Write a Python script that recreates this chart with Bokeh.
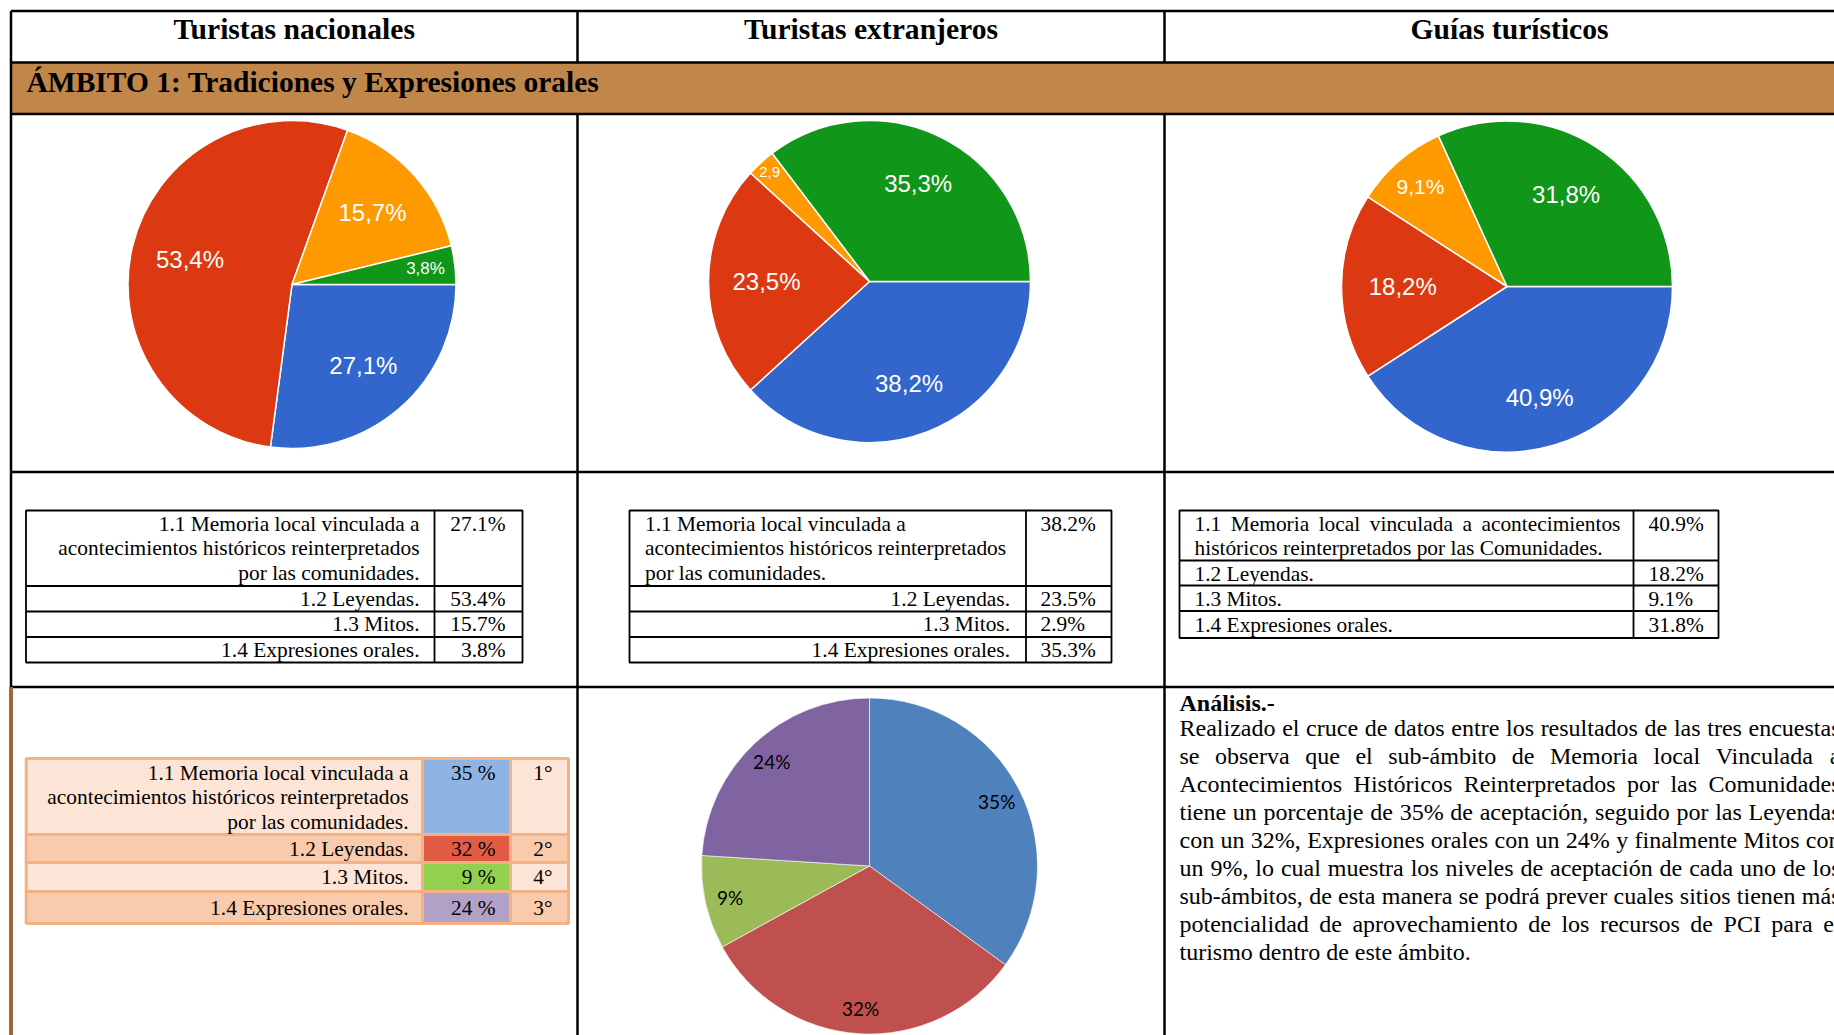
import math
from bokeh.plotting import figure
from bokeh.models import Range1d
from bokeh.embed import file_html
from bokeh.resources import INLINE
from bokeh.core.properties import value

# ---------------- data ----------------
column_titles = ["Turistas nacionales", "Turistas extranjeros", "Guías turísticos"]
ambito_title = "ÁMBITO 1: Tradiciones y Expresiones orales"
subambitos = ["1.1 Memoria local vinculada a acontecimientos históricos reinterpretados por las comunidades.",
              "1.2 Leyendas.", "1.3 Mitos.", "1.4 Expresiones orales."]
nacionales = [27.1, 53.4, 15.7, 3.8]
extranjeros = [38.2, 23.5, 2.9, 35.3]
guias = [40.9, 18.2, 9.1, 31.8]
promedio = [35, 32, 9, 24]
ranking = ["1°", "2°", "4°", "3°"]

google_colors = ["#3366CC", "#DC3912", "#FF9900", "#109618"]
excel_colors = ["#4F81BD", "#C0504D", "#9BBB59", "#8064A2"]
rank_cell_colors = ["#8EB4E3", "#E15B45", "#92D050", "#B2A1C7"]
row_fill_colors = ["#FCE4D6", "#F8CBAD", "#FCE4D6", "#F8CBAD"]

# wrapped first-row labels (as printed in each table)
first_label_a = ["1.1 Memoria local vinculada a", "acontecimientos históricos reinterpretados", "por las comunidades."]
first_label_b = ["1.1 Memoria local vinculada a acontecimientos", "históricos reinterpretados por las Comunidades."]

analysis_title = "Análisis.-"
analysis_lines = [
    "Realizado el cruce de datos entre los resultados de las tres encuestas",
    "se observa que el sub-ámbito de Memoria local Vinculada a",
    "Acontecimientos Históricos Reinterpretados por las Comunidades",
    f"tiene un porcentaje de {promedio[0]}% de aceptación, seguido por las Leyendas",
    f"con un {promedio[1]}%, Expresiones orales con un {promedio[3]}% y finalmente Mitos con",
    f"un {promedio[2]}%, lo cual muestra los niveles de aceptación de cada uno de los",
    "sub-ámbitos, de esta manera se podrá prever cuales sitios tienen más",
    "potencialidad de aprovechamiento de los recursos de PCI para el",
    "turismo dentro de este ámbito.",
]

# ---------------- helpers ----------------
SERIF = value("Liberation Serif")
SANS = value("Liberation Sans")

TIMES_W = {' ': 250, 'a': 444, 'b': 500, 'c': 444, 'd': 500, 'e': 444, 'f': 333, 'g': 500, 'h': 500,
           'i': 278, 'j': 278, 'k': 500, 'l': 278, 'm': 778, 'n': 500, 'o': 500, 'p': 500, 'q': 500,
           'r': 333, 's': 389, 't': 278, 'u': 500, 'v': 500, 'w': 722, 'x': 500, 'y': 500, 'z': 444,
           'A': 722, 'B': 667, 'C': 667, 'D': 722, 'E': 611, 'F': 556, 'G': 722, 'H': 722, 'I': 333,
           'J': 389, 'K': 722, 'L': 611, 'M': 889, 'N': 722, 'O': 722, 'P': 556, 'Q': 722, 'R': 667,
           'S': 556, 'T': 611, 'U': 722, 'V': 722, 'W': 944, 'X': 722, 'Y': 722, 'Z': 611,
           '.': 250, ',': 250, '-': 333, '%': 833, ':': 278, 'á': 444, 'é': 444, 'í': 278, 'ó': 500,
           'ú': 500, 'ñ': 500, '°': 400}


def tw(s, size):
    return sum(TIMES_W.get(ch, 500) for ch in s) / 1000.0 * size


W, H = 1834, 1035
p = figure(width=W, height=H, x_range=Range1d(0, W), y_range=Range1d(H, 0),
           output_backend="svg", toolbar_location=None, min_border=0,
           x_axis_location=None, y_axis_location=None)
p.grid.visible = False
p.outline_line_color = None
p.background_fill_color = "white"
p.border_fill_color = "white"


def txt(xs, ys, texts, size, align="left", font=SERIF, style="normal", color="black", baseline="middle"):
    p.text(x=xs, y=ys, text=texts, text_align=align, text_baseline=baseline, text_font=font,
           text_font_size=value(f"{size}px"), text_font_style=style, text_color=color)


def justified(line, x0, width, y, size):
    words = line.split(" ")
    ws = [tw(w, size) for w in words]
    gap = (width - sum(ws)) / max(len(words) - 1, 1)
    xs, x = [], x0
    for w in ws:
        xs.append(x)
        x += w + gap
    txt(xs, [y] * len(words), words, size)


# ---------------- outer grid ----------------
X0, XC1, XC2, XR = 10.5, 577, 1164, 1860
Y_TOP, Y_HEAD, Y_BAND, Y_PIE, Y_TAB, Y_BOT = 10.5, 62, 113.5, 471.5, 686.5, 1040

p.quad(left=[X0], right=[XR], top=[Y_HEAD], bottom=[Y_BAND], fill_color="#C0864A", line_color=None)
p.segment(x0=[X0] * 5, y0=[Y_TOP, Y_HEAD, Y_BAND, Y_PIE, Y_TAB], x1=[XR] * 5,
          y1=[Y_TOP, Y_HEAD, Y_BAND, Y_PIE, Y_TAB], line_color="black", line_width=2.5)
p.segment(x0=[X0, XC1, XC2, XC1, XC2], y0=[Y_TOP, Y_TOP, Y_TOP, Y_BAND, Y_BAND],
          x1=[X0, XC1, XC2, XC1, XC2], y1=[Y_TAB, Y_HEAD, Y_HEAD, Y_BOT, Y_BOT],
          line_color="black", line_width=2.5)
p.segment(x0=[X0], y0=[Y_TAB], x1=[X0], y1=[Y_BOT], line_color="#9C6A38", line_width=4)

# headers
txt([(X0 + XC1) / 2, (XC1 + XC2) / 2, (XC2 + 1854) / 2], [28, 28, 28], column_titles, 29.6,
    align="center", style="bold")
txt([26], [81], [ambito_title], 29.5, style="bold")


# ---------------- google pies ----------------
def google_pie(vals, cx, cy, r, label_r, label_sizes):
    total = sum(vals)
    starts, ends, a = [], [], 0.0
    for v in vals:
        starts.append(a)
        a += v / total * 360.0
        ends.append(a)
    p.wedge(x=[cx] * len(vals), y=[cy] * len(vals), radius=r,
            start_angle=[-math.radians(s) for s in starts], end_angle=[-math.radians(e) for e in ends],
            direction="clock", fill_color=google_colors, line_color="white", line_width=1.5)
    for v, s, e, lr, ls in zip(vals, starts, ends, label_r, label_sizes):
        m = math.radians((s + e) / 2)
        lab = f"{v:.1f}".replace(".", ",") + ("%" if v >= 3 else "")
        txt([cx + lr * r * math.cos(m)], [cy + lr * r * math.sin(m)], [lab], ls,
            align="center", font=SANS, color="white")


google_pie(nacionales, 291.5, 284, 164, [0.66, 0.64, 0.66, 0.82], [24, 24, 24, 17])
google_pie(extranjeros, 869, 281, 161, [0.68, 0.64, 0.92, 0.68], [24, 24, 15, 24])
google_pie(guias, 1506.5, 286, 165.5, [0.70, 0.63, 0.80, 0.66], [24, 24, 21, 24])


# ---------------- black tables ----------------
def black_table(left, div, right, tops, bottom):
    p.quad(left=[left], right=[right], top=[tops[0]], bottom=[bottom], fill_color=None,
           line_color="black", line_width=1.8)
    n = len(tops) - 1
    p.segment(x0=[left] * n, y0=tops[1:], x1=[right] * n, y1=tops[1:], line_color="black", line_width=1.8)
    p.segment(x0=[div], y0=[tops[0]], x1=[div], y1=[bottom], line_color="black", line_width=1.8)


TS = 21.4
rows_a = [510, 585.5, 611, 636.5]
first_a_y = [523, 547.5, 572]
# table 1
black_table(25.5, 434, 522, rows_a, 662)
txt([419] * 3, first_a_y, first_label_a, TS, align="right")
txt([419] * 3, [t + 12.5 for t in rows_a[1:]], subambitos[1:], TS, align="right")
txt([505] * 4, [first_a_y[0]] + [t + 12.5 for t in rows_a[1:]], [f"{v:.1f}%" for v in nacionales], TS,
    align="right")
# table 2
black_table(629, 1025.5, 1111, rows_a, 662)
txt([644.5] * 3, first_a_y, first_label_a, TS)
txt([1009.5] * 3, [t + 12.5 for t in rows_a[1:]], subambitos[1:], TS, align="right")
txt([1040] * 4, [first_a_y[0]] + [t + 12.5 for t in rows_a[1:]], [f"{v:.1f}%" for v in extranjeros], TS)
# table 3
rows_b = [510, 560, 585, 610.5]
black_table(1179, 1633, 1718, rows_b, 637.5)
justified(first_label_b[0], 1194, 426, 523, TS)
txt([1194], [547], [first_label_b[1]], TS)
txt([1194] * 3, [t + 13.5 for t in rows_b[1:]], subambitos[1:], TS)
txt([1648] * 4, [523] + [t + 13.5 for t in rows_b[1:]], [f"{v:.1f}%" for v in guias], TS)

# ---------------- orange summary table ----------------
rows_c = [758, 834, 862, 891]
bot_c = 923
L, D1, D2, R = 25.7, 422, 510, 568
bottoms_c = rows_c[1:] + [bot_c]
p.quad(left=[L] * 4, right=[D1] * 4, top=rows_c, bottom=bottoms_c, fill_color=row_fill_colors,
       line_color="#F4B183", line_width=3)
p.quad(left=[D1] * 4, right=[D2] * 4, top=rows_c, bottom=bottoms_c, fill_color=rank_cell_colors,
       line_color="#F4B183", line_width=3)
p.quad(left=[D2] * 4, right=[R] * 4, top=rows_c, bottom=bottoms_c, fill_color=row_fill_colors,
       line_color="#F4B183", line_width=3)
val_y = [772] + [(t + b) / 2 for t, b in zip(rows_c[1:], bottoms_c[1:])]
txt([408] * 3, [772, 796.5, 821], first_label_a, TS, align="right")
txt([408] * 3, val_y[1:], subambitos[1:], TS, align="right")
txt([495] * 4, val_y, [f"{v} %" for v in promedio], TS, align="right")
txt([552] * 4, val_y, ranking, TS, align="right")

# ---------------- excel pie ----------------
ecx, ecy, er = 869, 865.5, 168
tot = sum(promedio)
es, ee, a = [], [], -90.0
for v in promedio:
    es.append(a)
    a += v / tot * 360.0
    ee.append(a)
p.wedge(x=[ecx] * 4, y=[ecy] * 4, radius=er,
        start_angle=[-math.radians(s) for s in es], end_angle=[-math.radians(e) for e in ee],
        direction="clock", fill_color=excel_colors, line_color="white", line_width=0.6)
for v, s, e in zip(promedio, es, ee):
    m = math.radians((s + e) / 2)
    txt([ecx + 0.85 * er * math.cos(m)], [ecy + 0.85 * er * math.sin(m)], [f"{v}%"], 19,
        align="center", font=value("Lato"), color="black")

# ---------------- analysis text ----------------
AX, AW, AS = 1179, 661, 24
txt([AX], [702], [analysis_title], AS, style="bold")
for i, line in enumerate(analysis_lines):
    y = 727.5 + 28 * i
    if i < len(analysis_lines) - 1:
        justified(line, AX, AW, y, AS)
    else:
        txt([AX], [y], [line], AS)

open("out.html", "w").write(file_html(p, INLINE))
